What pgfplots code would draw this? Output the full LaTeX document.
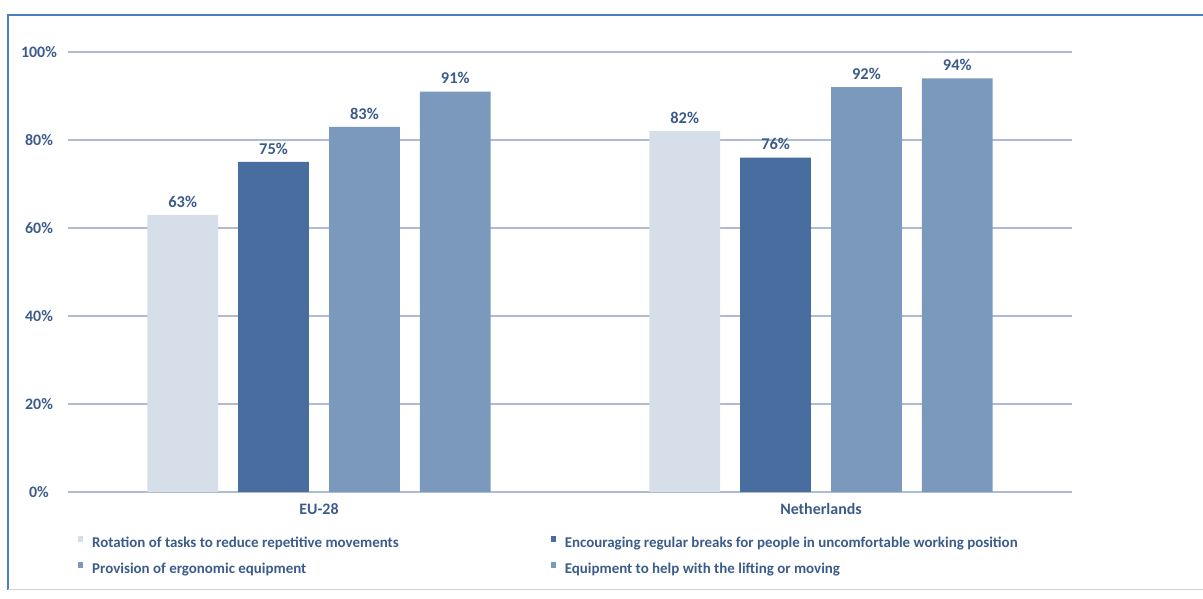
\documentclass[border=0pt]{standalone}
\usepackage{fontspec}
\setmainfont{Carlito}
\usepackage{pgfplots}
\pgfplotsset{compat=1.18}
\definecolor{cA}{HTML}{D5DEE9}
\definecolor{cB}{HTML}{476E9E}
\definecolor{cC}{HTML}{7B99BC}
\definecolor{textc}{HTML}{3B5B8A}
\definecolor{gridc}{HTML}{AEBCD1}
\definecolor{framec}{HTML}{4A80C3}
\begin{document}
\begin{tikzpicture}[x=1bp,y=1bp]
\path[use as bounding box] (0,0) rectangle (1203,599);
\draw[framec, line width=2bp] (8,9) -- (8,584) -- (1210,584);
\draw[black!18, line width=1bp] (8,9) -- (1210,9);
\begin{axis}[
  at={(68bp,107bp)}, anchor=south west, scale only axis,
  width=1004bp, height=440bp,
  xmin=-0.5, xmax=1.5, ymin=0, ymax=100,
  axis x line*=bottom, axis y line*=left,
  axis line style={draw=none}, major tick length=0pt,
  ytick={0,20,...,100},
  yticklabel={\pgfmathprintnumber{\tick}\%},
  yticklabel style={anchor=center, xshift=-29bp},
  xtick={0,1}, xticklabels={EU-28,Netherlands},
  xticklabel style={yshift=-8bp},
  ymajorgrids, grid style={gridc, line width=1.2bp},
  ybar, bar width=0.141,
  nodes near coords={\pgfmathprintnumber{\pgfplotspointmeta}\%},
  every node near coord/.append style={font=\bfseries\fontsize{16.5}{18}\selectfont, text=textc, yshift=4bp},
  ticklabel style={font=\bfseries\fontsize{16}{18}\selectfont, text=textc},
  /pgf/number format/assume math mode=true,
  legend columns=2,
  legend cell align=left,
  legend style={at={(0.01,-0.097)}, anchor=north west, draw=none, fill=none,
    inner sep=0pt, font=\bfseries\fontsize{15}{17}\selectfont, text=textc,
    /tikz/every even column/.append style={column sep=150bp},
    /tikz/every odd column/.append style={column sep=0bp},
    row sep=10bp},
  legend image code/.code={\fill[#1] (0bp,1bp) rectangle (5bp,6.5bp); \path (12bp,0);},
]
\addplot[fill=cA, draw=none, bar shift=-0.2715] coordinates {(0,63) (1,82)};
\addplot[fill=cB, draw=none, bar shift=-0.0905] coordinates {(0,75) (1,76)};
\addplot[fill=cC, draw=none, bar shift=0.0905] coordinates {(0,83) (1,92)};
\addplot[fill=cC, draw=none, bar shift=0.2715] coordinates {(0,91) (1,94)};
\legend{Rotation of tasks to reduce repetitive movements,
  Encouraging regular breaks for people in uncomfortable working position,
  Provision of ergonomic equipment,
  Equipment to help with the lifting or moving}
\end{axis}
\end{tikzpicture}
\end{document}
